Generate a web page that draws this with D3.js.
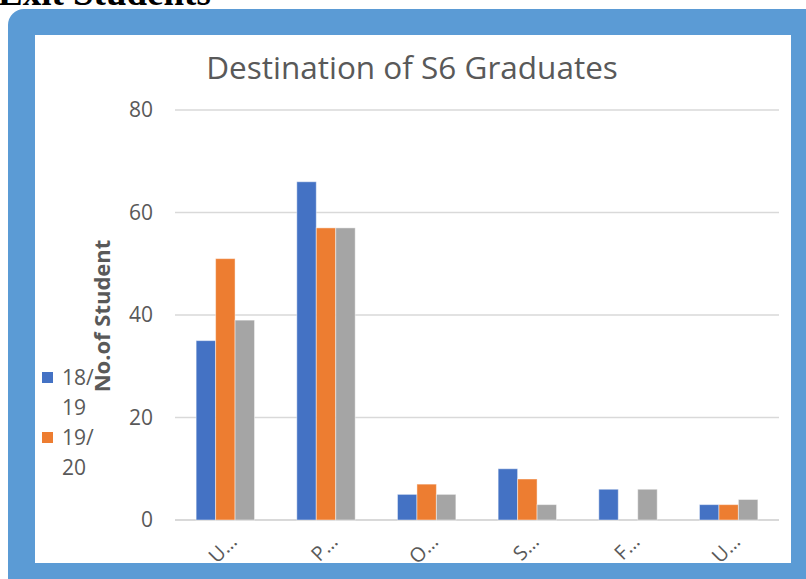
<!DOCTYPE html>
<html><head><meta charset="utf-8">
<script src="https://cdn.jsdelivr.net/npm/d3@7"></script>
<style>html,body{margin:0;padding:0;background:#fff;overflow:hidden}</style>
</head><body><svg id="c" width="806" height="579"></svg>
<script>
const categories = ["U\u2026","P\u2026","O\u2026","S\u2026","F\u2026","U\u2026"];
const seriesNames = ["18/19","19/20","20/21"];
const s1819 = [35,66,5,10,6,3];
const s1920 = [51,57,7,8,0,3];
const s2021 = [39,57,5,3,6,4];
const yTicks = [0,20,40,60,80];
const colors = ["#4472C4","#ED7D31","#A5A5A5"];
const series = [s1819,s1920,s2021];

const svg = d3.select("#c");
svg.append("text").attr("x",-2).attr("y",5).attr("font-family","Liberation Serif")
  .attr("font-weight","bold").attr("font-size",37).attr("fill","#000").text("Exit Students");
svg.append("rect").attr("x",8).attr("y",9).attr("width",830).attr("height",600).attr("rx",16).attr("fill","#5B9BD5");
svg.append("rect").attr("x",35).attr("y",35).attr("width",756).attr("height",528).attr("fill","#fff");

const font = "Segoe UI, Open Sans, sans-serif";
const x0 = d3.scaleBand().domain(d3.range(categories.length)).range([175,779]).paddingInner(0.42).paddingOuter(0.21);
const x1 = d3.scaleBand().domain(d3.range(series.length)).range([0,x0.bandwidth()]);
const y = d3.scaleLinear().domain([0,80]).range([520,110]);

const g = svg.append("g");
g.selectAll("line.grid").data(yTicks).join("line").attr("x1",175).attr("x2",779)
  .attr("y1",d=>y(d)).attr("y2",d=>y(d)).attr("stroke","#d9d9d9").attr("stroke-width",d=>d===0?2:1.5);
g.selectAll("text.yt").data(yTicks).join("text").attr("x",153).attr("y",d=>y(d)).attr("dy","0.35em")
  .attr("text-anchor","end").attr("font-family",font).attr("font-size",21).attr("fill","#595959").text(d=>d);

series.forEach((vals,si)=>{
  g.append("g").selectAll("rect").data(vals).join("rect")
   .attr("x",(d,i)=>x0(i)+x1(si)).attr("width",x1.bandwidth())
   .attr("y",d=>y(d)).attr("height",d=>y(0)-y(d))
   .attr("fill",colors[si]).attr("stroke",d=>d>0?"rgba(255,255,255,0.45)":"none").attr("stroke-width",1);
});

g.selectAll("text.xl").data(categories).join("text")
  .attr("transform",(d,i)=>`translate(${x0(i)+x0.bandwidth()/2+8},${538}) rotate(-45)`)
  .attr("text-anchor","end").attr("dy","0.35em").attr("font-family",font).attr("font-size",20).attr("fill","#595959").text(d=>d);

svg.append("text").attr("transform","translate(110,316) rotate(-90)").attr("text-anchor","middle")
  .attr("font-family",font).attr("font-weight","bold").attr("font-size",22).attr("fill","#595959").text("No.of Student");

svg.append("text").attr("x",412).attr("y",79).attr("text-anchor","middle").attr("font-family",font)
  .attr("font-size",31.5).attr("fill","#595959").text("Destination of S6 Graduates");

// legend (clipped, only part fits)
svg.append("clipPath").attr("id","lc").append("rect").attr("x",35).attr("y",360).attr("width",120).attr("height",127);
const lg = svg.append("g").attr("clip-path","url(#lc)");
seriesNames.forEach((n,i)=>{
  const yy = 372 + i*60;
  lg.append("rect").attr("x",42).attr("y",yy).attr("width",11).attr("height",11).attr("fill",colors[i]);
  const parts = n.split("/");
  lg.append("text").attr("x",62).attr("y",yy+6).attr("dy","0.35em").attr("font-family",font).attr("font-size",21).attr("fill","#595959").text(parts[0]+"/");
  lg.append("text").attr("x",62).attr("y",yy+36).attr("dy","0.35em").attr("font-family",font).attr("font-size",21).attr("fill","#595959").text(parts[1]);
});
</script></body></html>
